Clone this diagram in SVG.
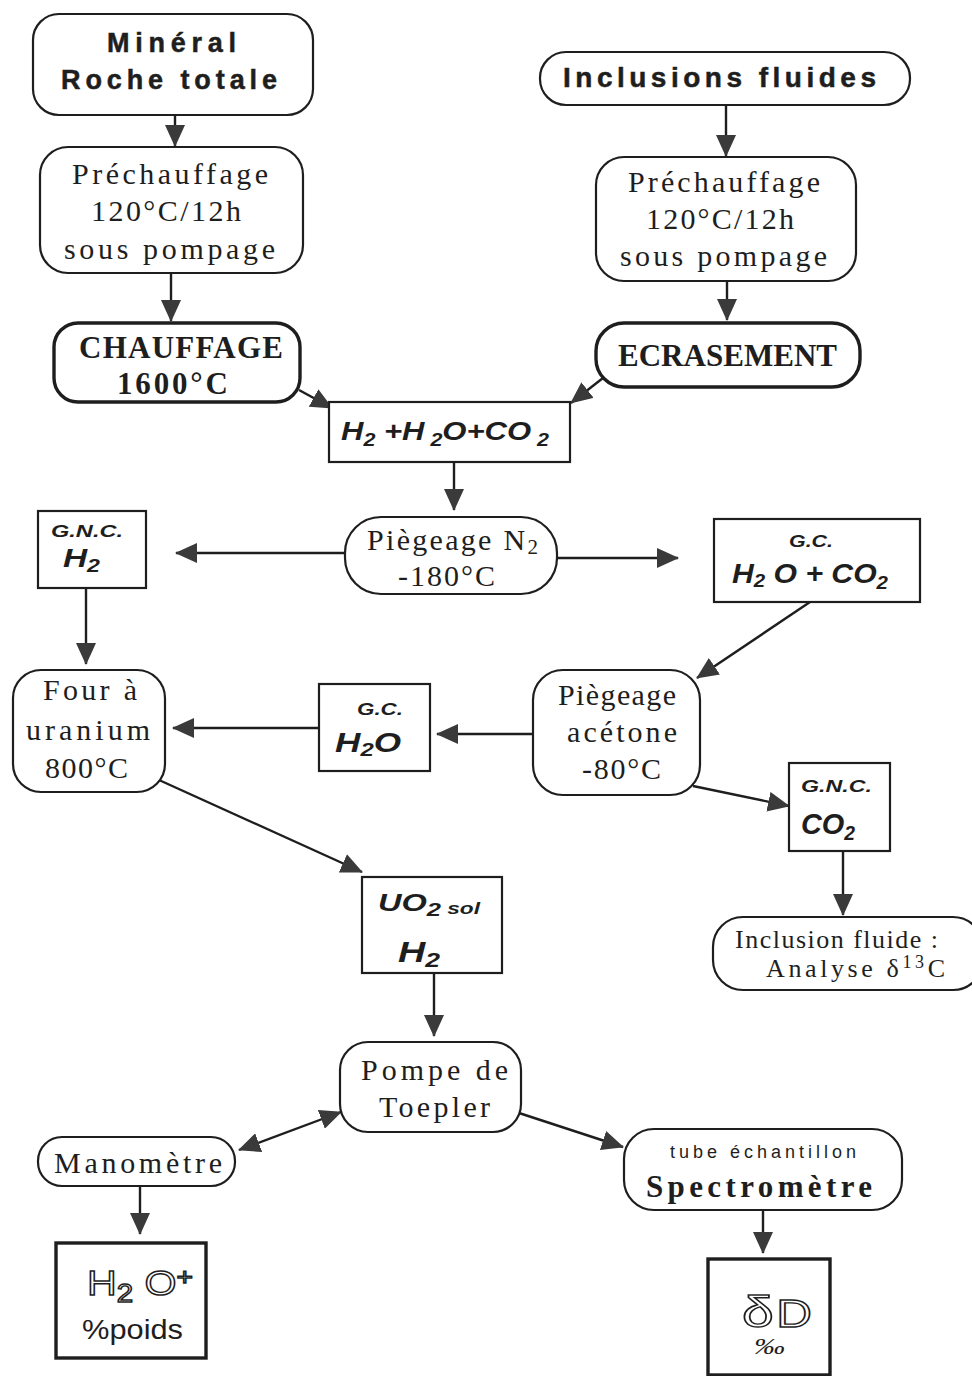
<svg xmlns="http://www.w3.org/2000/svg" width="972" height="1376" viewBox="0 0 972 1376">
<style>
.box{fill:#fff;stroke:#1e1e1e;stroke-width:2.2}
.thick{stroke-width:3.4}
.sans{font-family:"Liberation Sans",Arial,sans-serif;font-weight:bold;fill:#1e1e1e;stroke:#1e1e1e;stroke-width:0.5}
.serif{font-family:"Liberation Serif","Times New Roman",serif;fill:#1e1e1e}
.it{font-family:"Liberation Sans",Arial,sans-serif;font-weight:bold;font-style:italic;fill:#1e1e1e}
.out{font-family:"Liberation Sans",Arial,sans-serif;fill:#fff;stroke:#1e1e1e;stroke-width:1.4}
.c line{stroke:#1e1e1e;stroke-width:2.4;fill:none}
</style>
<defs>
<marker id="ah" viewBox="0 0 22 20" refX="21" refY="10" markerWidth="22" markerHeight="20" markerUnits="userSpaceOnUse" orient="auto-start-reverse">
<path d="M0,0 L22,10 L0,20 Z" fill="#3a3a3a"/>
</marker>
</defs>
<rect width="972" height="1376" fill="#fff"/>

<g class="c" id="connectors">
<line x1="175" y1="115" x2="175" y2="146" marker-end="url(#ah)"/>
<line x1="171" y1="273" x2="171" y2="321" marker-end="url(#ah)"/>
<line x1="726" y1="105" x2="726" y2="156" marker-end="url(#ah)"/>
<line x1="727" y1="281" x2="727" y2="320" marker-end="url(#ah)"/>
<line x1="299" y1="390" x2="332" y2="408" marker-end="url(#ah)"/>
<line x1="603" y1="378" x2="571" y2="403" marker-end="url(#ah)"/>
<line x1="454" y1="462" x2="454" y2="510" marker-end="url(#ah)"/>
<line x1="345" y1="553" x2="176" y2="553" marker-end="url(#ah)"/>
<line x1="557" y1="558" x2="678" y2="558" marker-end="url(#ah)"/>
<line x1="86" y1="588" x2="86" y2="664" marker-end="url(#ah)"/>
<line x1="810" y1="602" x2="697" y2="678" marker-end="url(#ah)"/>
<line x1="533" y1="734" x2="437" y2="734" marker-end="url(#ah)"/>
<line x1="319" y1="728" x2="173" y2="728" marker-end="url(#ah)"/>
<line x1="693" y1="786" x2="789" y2="806" marker-end="url(#ah)"/>
<line x1="843" y1="851" x2="843" y2="915" marker-end="url(#ah)"/>
<line x1="159" y1="780" x2="362" y2="872" marker-end="url(#ah)"/>
<line x1="434" y1="973" x2="434" y2="1036" marker-end="url(#ah)"/>
<line x1="341" y1="1112" x2="239" y2="1150" marker-start="url(#ah)" marker-end="url(#ah)"/>
<line x1="140" y1="1186" x2="140" y2="1234" marker-end="url(#ah)"/>
<line x1="519" y1="1113" x2="623" y2="1147" marker-end="url(#ah)"/>
<line x1="763" y1="1210" x2="763" y2="1253" marker-end="url(#ah)"/>
</g>

<g id="mineral">
<rect class="box" x="33" y="14" width="280" height="101" rx="26"/>
<text class="sans" x="107" y="52" font-size="27" textLength="129" lengthAdjust="spacing">Minéral</text>
<text class="sans" x="61" y="89" font-size="27" textLength="216" lengthAdjust="spacing">Roche  totale</text>
</g>

<g id="prechauffage-l">
<rect class="box" x="40" y="147" width="263" height="126" rx="28"/>
<text class="serif" x="72" y="184" font-size="30" textLength="196" lengthAdjust="spacing">Préchauffage</text>
<text class="serif" x="91" y="221" font-size="30" textLength="150" lengthAdjust="spacing">120°C/12h</text>
<text class="serif" x="64" y="259" font-size="30" textLength="211" lengthAdjust="spacing">sous  pompage</text>
</g>

<g id="chauffage">
<rect class="box thick" x="54" y="323" width="246" height="79" rx="24"/>
<text class="serif" x="79" y="358" font-size="31" font-weight="bold" textLength="204" lengthAdjust="spacing">CHAUFFAGE</text>
<text class="serif" x="117" y="394" font-size="31" font-weight="bold" textLength="111" lengthAdjust="spacing">1600°C</text>
</g>

<g id="inclusions">
<rect class="box" x="540" y="52" width="370" height="53" rx="26"/>
<text class="sans" x="563" y="87" font-size="28" textLength="313" lengthAdjust="spacing">Inclusions  fluides</text>
</g>

<g id="prechauffage-r">
<rect class="box" x="596" y="157" width="260" height="124" rx="28"/>
<text class="serif" x="628" y="192" font-size="30" textLength="192" lengthAdjust="spacing">Préchauffage</text>
<text class="serif" x="646" y="229" font-size="30" textLength="148" lengthAdjust="spacing">120°C/12h</text>
<text class="serif" x="620" y="266" font-size="30" textLength="207" lengthAdjust="spacing">sous  pompage</text>
</g>

<g id="ecrasement">
<rect class="box thick" x="596" y="323" width="264" height="64" rx="28"/>
<text class="serif" x="618" y="366" font-size="31" font-weight="bold" textLength="219" lengthAdjust="spacing">ECRASEMENT</text>
</g>

<g id="gaz">
<rect class="box" x="329" y="402" width="241" height="60"/>
<text class="it" x="341" y="440" font-size="26" textLength="208" lengthAdjust="spacingAndGlyphs">H<tspan font-size="18" dy="6">2</tspan><tspan dy="-6"> +H</tspan><tspan font-size="18" dy="6"> 2</tspan><tspan dy="-6">O+CO</tspan><tspan font-size="18" dy="6"> 2</tspan></text>
</g>

<g id="piegeage-n2">
<rect class="box" x="345" y="517" width="212" height="77" rx="36"/>
<text class="serif" x="367" y="550" font-size="30" textLength="171" lengthAdjust="spacing">Piègeage  N<tspan font-size="21" dy="4">2</tspan></text>
<text class="serif" x="398" y="586" font-size="30" textLength="97" lengthAdjust="spacing">-180°C</text>
</g>

<g id="gnc-h2">
<rect class="box" x="38" y="511" width="108" height="77"/>
<text class="it" x="51" y="537" font-size="17" textLength="72" lengthAdjust="spacingAndGlyphs">G.N.C.</text>
<text class="it" x="63" y="567" font-size="26" textLength="37" lengthAdjust="spacingAndGlyphs">H<tspan font-size="18" dy="5">2</tspan></text>
</g>

<g id="gc-h2o-co2">
<rect class="box" x="714" y="519" width="206" height="83"/>
<text class="it" x="789" y="547" font-size="17" textLength="44" lengthAdjust="spacingAndGlyphs">G.C.</text>
<text class="it" x="732" y="583" font-size="28" textLength="156" lengthAdjust="spacingAndGlyphs">H<tspan font-size="19" dy="4">2</tspan><tspan dy="-4"> O + CO</tspan><tspan font-size="19" dy="6">2</tspan></text>
</g>

<g id="four">
<rect class="box" x="13" y="670" width="152" height="122" rx="28"/>
<text class="serif" x="43" y="700" font-size="30" textLength="94" lengthAdjust="spacing">Four  à</text>
<text class="serif" x="26" y="740" font-size="30" textLength="124" lengthAdjust="spacing">uranium</text>
<text class="serif" x="45" y="778" font-size="30" textLength="83" lengthAdjust="spacing">800°C</text>
</g>

<g id="gc-h2o">
<rect class="box" x="319" y="684" width="111" height="87"/>
<text class="it" x="357" y="715" font-size="17" textLength="46" lengthAdjust="spacingAndGlyphs">G.C.</text>
<text class="it" x="335" y="752" font-size="28" textLength="66" lengthAdjust="spacingAndGlyphs">H<tspan font-size="19" dy="4">2</tspan><tspan dy="-4">O</tspan></text>
</g>

<g id="piegeage-acetone">
<rect class="box" x="533" y="670" width="167" height="125" rx="30"/>
<text class="serif" x="558" y="705" font-size="30" textLength="118" lengthAdjust="spacing">Piègeage</text>
<text class="serif" x="567" y="742" font-size="30" textLength="110" lengthAdjust="spacing">acétone</text>
<text class="serif" x="582" y="779" font-size="30" textLength="79" lengthAdjust="spacing">-80°C</text>
</g>

<g id="gnc-co2">
<rect class="box" x="789" y="763" width="101" height="88"/>
<text class="it" x="801" y="792" font-size="17" textLength="71" lengthAdjust="spacingAndGlyphs">G.N.C.</text>
<text class="it" x="801" y="834" font-size="30" textLength="54" lengthAdjust="spacingAndGlyphs">CO<tspan font-size="20" dy="6">2</tspan></text>
</g>

<g id="inclusion-analyse">
<rect class="box" x="713" y="917" width="270" height="73" rx="30"/>
<text class="serif" x="735" y="948" font-size="26" textLength="203" lengthAdjust="spacing">Inclusion  fluide  :</text>
<text class="serif" x="766" y="977" font-size="26" textLength="179" lengthAdjust="spacing">Analyse  δ<tspan font-size="18" dy="-9">13</tspan><tspan dy="9">C</tspan></text>
</g>

<g id="uo2">
<rect class="box" x="362" y="877" width="140" height="96"/>
<text class="it" x="378" y="911" font-size="23" textLength="102" lengthAdjust="spacingAndGlyphs">UO<tspan font-size="18" dy="5">2</tspan><tspan font-size="16" dy="-2"> sol</tspan></text>
<text class="it" x="398" y="962" font-size="30" textLength="42" lengthAdjust="spacingAndGlyphs">H<tspan font-size="21" dy="5">2</tspan></text>
</g>

<g id="toepler">
<rect class="box" x="340" y="1042" width="181" height="90" rx="28"/>
<text class="serif" x="361" y="1080" font-size="30" textLength="147" lengthAdjust="spacing">Pompe  de</text>
<text class="serif" x="379" y="1117" font-size="30" textLength="111" lengthAdjust="spacing">Toepler</text>
</g>

<g id="manometre">
<rect class="box" x="38" y="1137" width="197" height="49" rx="24"/>
<text class="serif" x="54" y="1173" font-size="30" textLength="168" lengthAdjust="spacing">Manomètre</text>
</g>

<g id="h2o-poids">
<rect class="box thick" x="56" y="1243" width="150" height="115"/>
<text class="out" x="87" y="1295" font-size="35" textLength="106" lengthAdjust="spacingAndGlyphs">H<tspan font-size="25" dy="7">2</tspan><tspan dy="-7"> O</tspan><tspan font-size="24" dy="-10">+</tspan></text>
<text x="82" y="1339" font-size="28" textLength="101" lengthAdjust="spacingAndGlyphs" font-family="Liberation Sans,Arial,sans-serif" fill="#1e1e1e">%poids</text>
</g>

<g id="spectrometre">
<rect class="box" x="624" y="1129" width="278" height="81" rx="30"/>
<text x="670" y="1158" font-size="18" textLength="186" lengthAdjust="spacing" font-family="Liberation Sans,Arial,sans-serif" fill="#1e1e1e">tube  échantillon</text>
<text class="serif" x="646" y="1197" font-size="31" font-weight="bold" textLength="226" lengthAdjust="spacing">Spectromètre</text>
</g>

<g id="delta-d">
<rect class="box thick" x="708" y="1259" width="122" height="116"/>
<text class="out" x="742" y="1327" font-size="44" textLength="70" lengthAdjust="spacingAndGlyphs">δ<tspan dx="2" font-size="38">D</tspan></text>
<text class="serif" x="754" y="1354" font-size="23" font-style="italic" textLength="31" lengthAdjust="spacingAndGlyphs">‰</text>
</g>
</svg>
